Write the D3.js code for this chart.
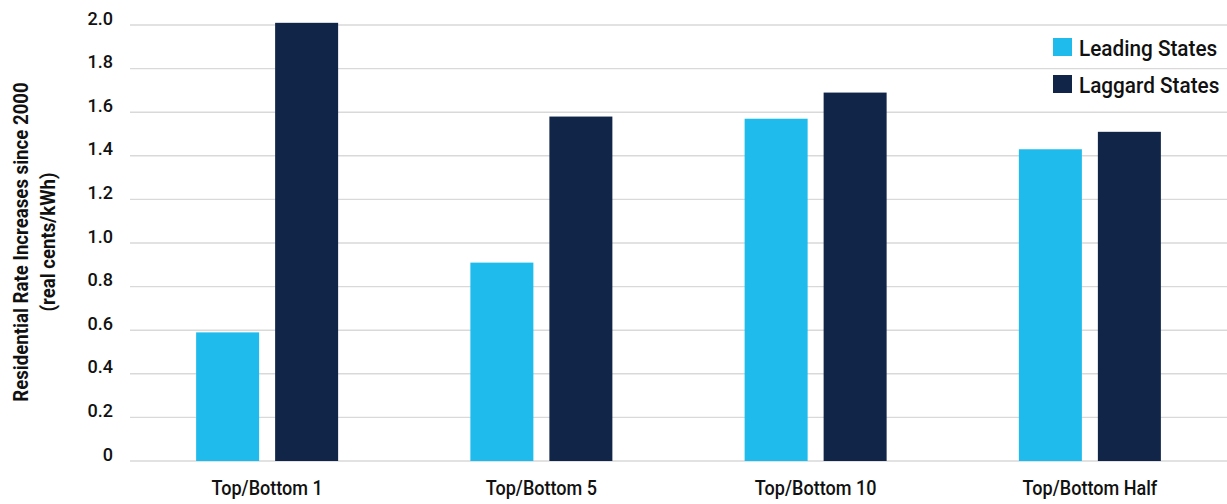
<!DOCTYPE html>
<html>
<head>
<meta charset="utf-8">
<script src="https://cdn.jsdelivr.net/npm/d3@7"></script>
<style>
  html, body { margin: 0; padding: 0; background: #ffffff; }
  svg { display: block; }
  text { font-family: "Roboto", "Liberation Sans", sans-serif; fill: #111111; }
</style>
</head>
<body>
<svg id="chart" width="1227" height="504"></svg>
<script>
// Residential rate increases since 2000, leading vs laggard states
const categories = ["Top/Bottom 1", "Top/Bottom 5", "Top/Bottom 10", "Top/Bottom Half"];
const seriesNames = ["Leading States", "Laggard States"];
const leadingValues = [0.59, 0.91, 1.57, 1.43];
const laggardValues = [2.01, 1.58, 1.69, 1.51];
const tickValues = [0, 0.2, 0.4, 0.6, 0.8, 1.0, 1.2, 1.4, 1.6, 1.8, 2.0];
const tickLabels = ["0", "0.2", "0.4", "0.6", "0.8", "1.0", "1.2", "1.4", "1.6", "1.8", "2.0"];
const colors = ["#1fbbed", "#112548"];

const svg = d3.select("#chart");
const plot = { left: 130, right: 1227, top: 25, bottom: 461 };
const narrow = 0.86; // horizontal squeeze for a condensed look

const x = d3.scaleBand().domain(categories).range([plot.left, plot.right]).paddingInner(0).paddingOuter(0);
const groupWidth = 142;
const xInner = d3.scaleBand().domain(seriesNames)
  .range([(x.bandwidth() - groupWidth) / 2, (x.bandwidth() + groupWidth) / 2])
  .paddingInner(16 / 79).paddingOuter(0);
const y = d3.scaleLinear().domain([0, 2.0]).range([plot.bottom, plot.top]);

// gridlines
svg.append("g").selectAll("line").data(tickValues).join("line")
  .attr("x1", plot.left).attr("x2", plot.right)
  .attr("y1", d => y(d)).attr("y2", d => y(d))
  .attr("stroke", "#d9d9d9").attr("stroke-width", 1.4);

// y tick labels
svg.append("g").selectAll("g").data(tickValues).join("g")
  .attr("transform", d => `translate(113,${y(d) - 0.5}) scale(0.95,1)`)
  .append("text")
  .attr("text-anchor", "end")
  .style("font-size", "19px").style("font-weight", 500)
  .text((d, i) => tickLabels[i]);

// bars
const rows = categories.map((c, i) => ({ category: c, values: [leadingValues[i], laggardValues[i]] }));
const groups = svg.append("g").selectAll("g").data(rows).join("g")
  .attr("transform", d => `translate(${x(d.category)},0)`);
groups.selectAll("rect").data(d => d.values.map((v, j) => ({ series: seriesNames[j], value: v, j })))
  .join("rect")
  .attr("x", d => xInner(d.series))
  .attr("width", xInner.bandwidth())
  .attr("y", d => y(d.value))
  .attr("height", d => y(0) - y(d.value))
  .attr("fill", d => colors[d.j]);

// x category labels
svg.append("g").selectAll("g").data(categories).join("g")
  .attr("transform", d => `translate(${x(d) + x.bandwidth() / 2},495) scale(${narrow},1)`)
  .append("text")
  .attr("text-anchor", "middle")
  .style("font-size", "21px").style("font-weight", 500)
  .text(d => d);

// y axis title
const title = svg.append("g").attr("transform", "translate(0,242) rotate(-90) scale(0.91,1)");
title.append("text").attr("x", 0).attr("y", 28).attr("text-anchor", "middle")
  .style("font-size", "20.5px").style("font-weight", 700)
  .text("Residential Rate Increases since 2000");
title.append("text").attr("x", 0).attr("y", 55).attr("text-anchor", "middle")
  .style("font-size", "20.5px").style("font-weight", 700)
  .text("(real cents/kWh)");

// legend
const legend = svg.append("g").selectAll("g").data(seriesNames).join("g")
  .attr("transform", (d, i) => `translate(1053,${38 + i * 37})`);
legend.append("rect").attr("width", 19).attr("height", 18).attr("fill", (d, i) => colors[i]);
legend.append("g").attr("transform", "translate(26,18) scale(0.965,1)")
  .append("text").style("font-size", "21.5px").style("font-weight", 500).text(d => d);
</script>
</body>
</html>
